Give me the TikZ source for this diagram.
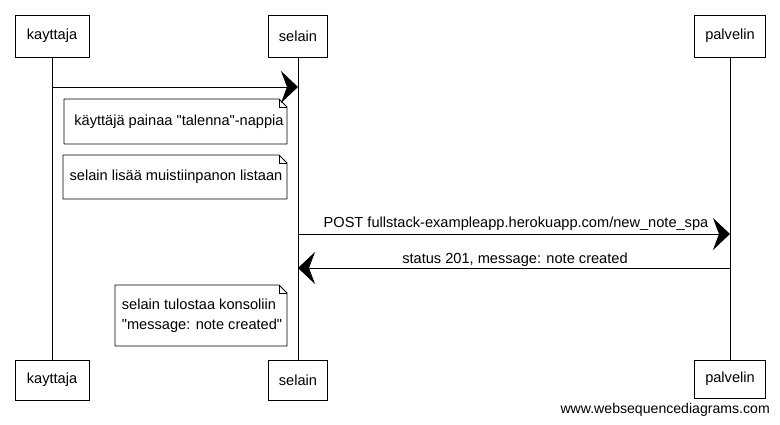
\documentclass[tikz,border=0pt]{standalone}
\usepackage{fontspec}
\setmainfont{Liberation Sans}[Ligatures=TeXOff]
\usetikzlibrary{arrows.meta,calc}
\begin{document}
\begin{tikzpicture}[x=1pt,y=-1pt,
  actor/.style={draw,line width=0.8pt,inner sep=0pt,font=\fontsize{14.6}{17}\selectfont},
  lifeline/.style={line width=0.7pt},
  msg/.style={line width=0.9pt,-{Stealth[length=17pt,width=32pt,inset=6pt]}},
  notetext/.style={inner sep=0pt,font=\fontsize{14.6}{20}\selectfont,align=left},
  notebox/.style={draw,line width=0.8pt,line join=round},
  lbl/.style={font=\fontsize{14.6}{17}\selectfont,inner sep=0pt}]
\useasboundingbox (0,0) rectangle (780,425);
% actors
\node[actor,minimum width=74pt,minimum height=42pt] (kt) at (52,36) {kayttaja};
\node[actor,minimum width=59pt,minimum height=42pt] (st) at (298,36) {selain};
\node[actor,minimum width=71pt,minimum height=42pt] (pt) at (730,36) {palvelin};
\node[actor,minimum width=74pt,minimum height=40pt] (kb) at (52,380) {kayttaja};
\node[actor,minimum width=59pt,minimum height=40pt] (sb) at (298,380) {selain};
\node[actor,minimum width=71pt,minimum height=38pt] (pb) at (730,379) {palvelin};
% lifelines
\draw[lifeline] (kt.south) -- (kb.north);
\draw[lifeline] (st.south) -- (sb.north);
\draw[lifeline] (pt.south) -- (pb.north);
% message points
\coordinate (m1a) at (52,87);
\coordinate (m1b) at (298,87);
\coordinate (m2a) at (298,234);
\coordinate (m2b) at (730,234);
\coordinate (m3a) at (730,268);
\coordinate (m3b) at (298,268);
\draw[msg] (m1a) -- (m1b);
\draw[msg] (m2a) -- (m2b);
\draw[msg] (m3a) -- (m3b);
\node[lbl] (l2) at (516,224) {POST fullstack-exampleapp.herokuapp.com/new\_note\_spa};
\node[lbl] (l3) at (515,260) {status 201, message: note created};
% notes
\node[notetext] (t1) at (179,122) {käyttäjä painaa "talenna"-nappia};
\node[notetext] (t2) at (176,177) {selain lisää muistiinpanon listaan};
\node[notetext] (t3) at (202,316) {selain tulostaa konsoliin\\"message: note created"};
\coordinate (n1a) at (64,99);  \coordinate (n1b) at (287,144);
\coordinate (n2a) at (63,155); \coordinate (n2b) at (287,199);
\coordinate (n3a) at (115,285); \coordinate (n3b) at (287,346);
\foreach \a/\b in {n1a/n1b,n2a/n2b,n3a/n3b}{
  \draw[notebox] (\a) -- ($(\b |- \a)+(-8,0)$) -- ($(\b |- \a)+(0,8)$) -- (\b) -- (\a |- \b) -- cycle;
  \draw[line width=0.6pt] ($(\b |- \a)+(-8,0)$) -- ($(\b |- \a)+(-8,8)$) -- ($(\b |- \a)+(0,8)$);
}
% footer
\node[anchor=east,inner sep=0pt,font=\fontsize{14.1}{16}\selectfont] (ft) at (770,410) {www.websequencediagrams.com};
\end{tikzpicture}
\end{document}
